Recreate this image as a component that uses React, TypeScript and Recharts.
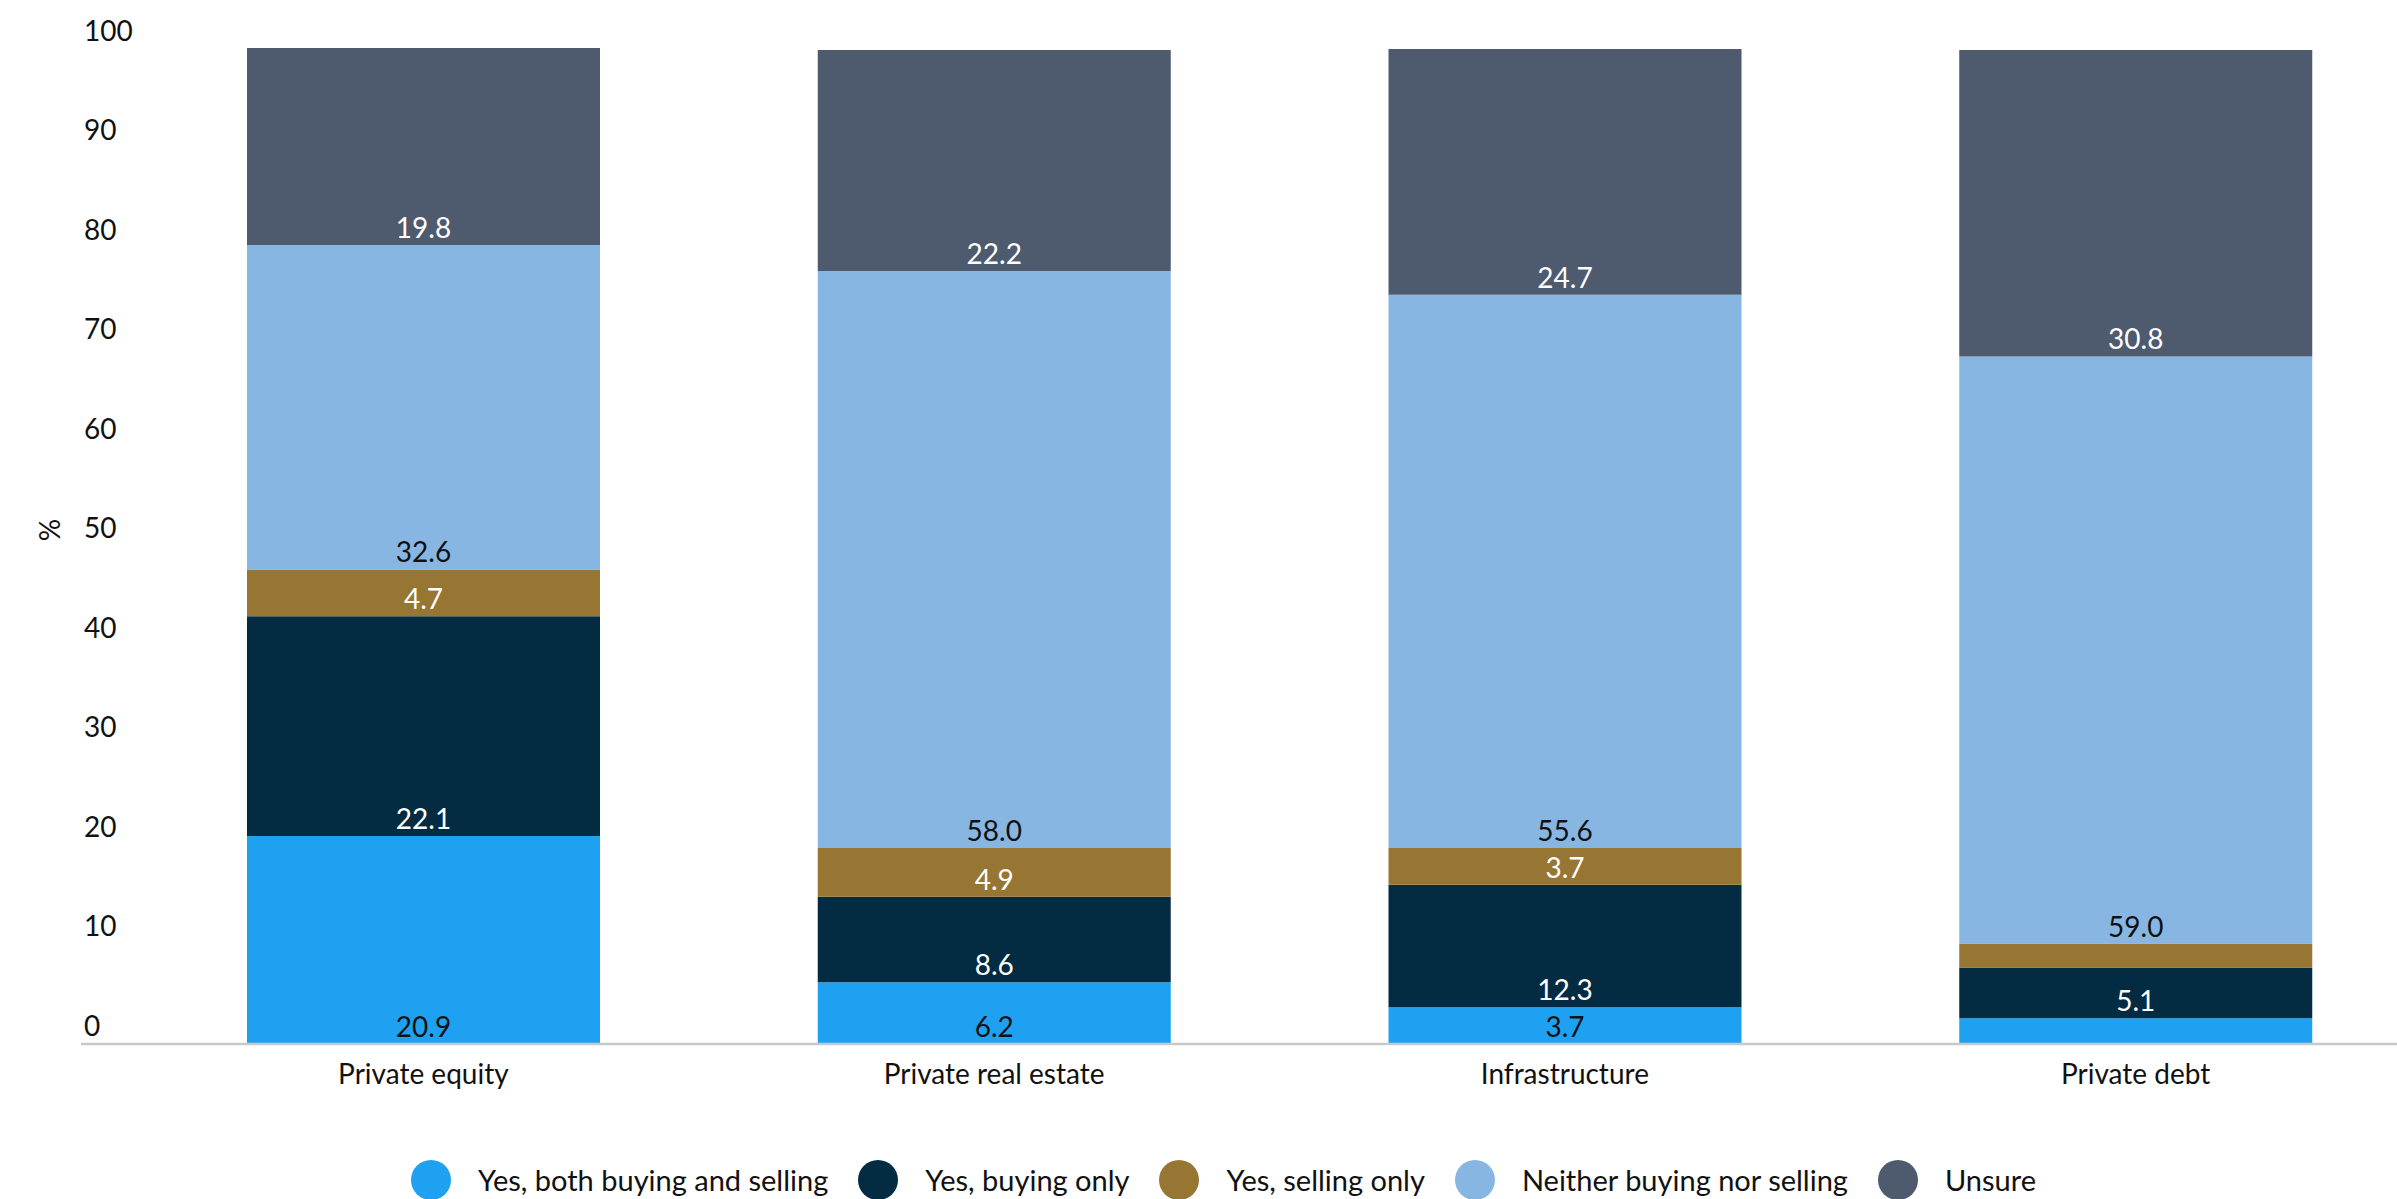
import { BarChart, Bar, XAxis, YAxis, LabelList } from 'recharts';

const categories = ['Private equity', 'Private real estate', 'Infrastructure', 'Private debt'];
const bothBuyingAndSelling = [20.9, 6.2, 3.7, 2.6];
const buyingOnly = [22.1, 8.6, 12.3, 5.1];
const sellingOnly = [4.7, 4.9, 3.7, 2.4];
const neitherBuyingNorSelling = [32.6, 58.0, 55.6, 59.0];
const unsure = [19.8, 22.2, 24.7, 30.8];
const yTicks = [0, 10, 20, 30, 40, 50, 60, 70, 80, 90, 100];

const FONT = 'Lato, "Open Sans", sans-serif';

const series = [
  { key: 'both', name: 'Yes, both buying and selling', values: bothBuyingAndSelling, color: '#1ea1f1', text: '#111111' },
  { key: 'buying', name: 'Yes, buying only', values: buyingOnly, color: '#032b42', text: '#ffffff' },
  { key: 'selling', name: 'Yes, selling only', values: sellingOnly, color: '#977533', text: '#ffffff' },
  { key: 'neither', name: 'Neither buying nor selling', values: neitherBuyingNorSelling, color: '#88b6e2', text: '#111111' },
  { key: 'unsure', name: 'Unsure', values: unsure, color: '#4e5a6e', text: '#ffffff' },
];

const chartData = categories.map((name, i) => {
  const row: Record<string, string | number> = { name };
  series.forEach((s) => { row[s.key] = s.values[i]; });
  return row;
});

// y tick labels sit left-aligned, just above their value line
const YTick = ({ x, y, payload }: any) => (
  <text x={x + 3} y={y - 8} textAnchor="start" fontSize={28} fill="#111" fontFamily={FONT}>
    {payload.value}
  </text>
);

const segmentLabel = (color: string) => (props: any) => {
  const { x, y, width, height, value } = props;
  if (value == null || value < 3) return null;
  return (
    <text
      x={x + width / 2}
      y={y + height - 7}
      textAnchor="middle"
      fontSize={28}
      fill={color}
      fontFamily={FONT}
    >
      {Number(value).toFixed(1)}
    </text>
  );
};

export default function App() {
  return (
    <div style={{ position: 'relative', width: 2397, height: 1199, fontFamily: FONT, background: '#fff' }}>
      <style>{'body{margin:0}'}</style>
      <BarChart
        width={2397}
        height={1199}
        data={chartData}
        margin={{ top: 48, right: -24, bottom: 95, left: 24 }}
        barSize={353}
      >
        <XAxis
          dataKey="name"
          tickLine={false}
          axisLine={{ stroke: '#c8c8c8', strokeWidth: 2.5 }}
          tick={{ fontSize: 28, fill: '#111', fontFamily: FONT }}
          tickMargin={14}
          height={60}
          padding={{ left: 57, right: 0 }}
        />
        <YAxis
          width={57}
          domain={[0, 100]}
          ticks={yTicks}
          tickSize={0}
          tickMargin={0}
          axisLine={false}
          tickLine={false}
          tick={(p: any) => <YTick {...p} />}
          label={{
            content: ({ viewBox }: any) => {
              const cx = viewBox.x + 25;
              const cy = viewBox.y + viewBox.height / 2 - 16;
              return (
                <text x={cx} y={cy} transform={`rotate(-90 ${cx} ${cy})`} textAnchor="middle" dominantBaseline="central" fontSize={28} fill="#111" fontFamily={FONT}>
                  %
                </text>
              );
            },
          }}
        />
        {series.map((s) => (
          <Bar key={s.key} dataKey={s.key} name={s.name} stackId="a" fill={s.color} isAnimationActive={false}>
            <LabelList dataKey={s.key} content={segmentLabel(s.text)} />
          </Bar>
        ))}
      </BarChart>
      <div
        style={{
          position: 'absolute',
          top: 1160,
          left: 0,
          width: 2397,
          paddingLeft: 80,
          boxSizing: 'border-box',
          display: 'flex',
          justifyContent: 'center',
          alignItems: 'center',
        }}
      >
        {series.map((s) => (
          <div key={s.key} style={{ display: 'flex', alignItems: 'center', marginRight: 30 }}>
            <span style={{ width: 40, height: 40, borderRadius: '50%', background: s.color, marginRight: 27, display: 'inline-block' }} />
            <span style={{ fontSize: 29, color: '#111', lineHeight: '40px' }}>{s.name}</span>
          </div>
        ))}
      </div>
    </div>
  );
}
